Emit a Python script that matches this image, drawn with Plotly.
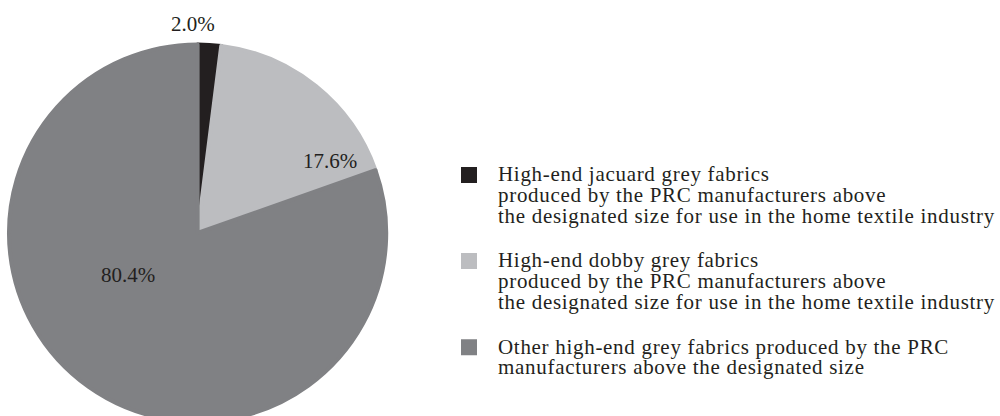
import plotly.graph_objects as go

labels = [
    "High-end jacuard grey fabrics<br>produced by the PRC manufacturers above<br>the designated size for use in the home textile industry",
    "High-end dobby grey fabrics<br>produced by the PRC manufacturers above<br>the designated size for use in the home textile industry",
    "Other high-end grey fabrics produced by the PRC<br>manufacturers above the designated size",
]
values = [2.0, 17.6, 80.4]
colors = ["#231f20", "#bcbdc0", "#808184"]

H = 440
SPAN = "<span style='font-size:21px;letter-spacing:0.7px'>"


def legend_text(t, last):
    lines = t.split("<br>")
    s = "<br>".join(SPAN + ln + "</span>" for ln in lines)
    return s if last else s + "<br> "


legend_labels = [legend_text(t, i == len(labels) - 1) for i, t in enumerate(labels)]

fig = go.Figure(go.Pie(
    labels=legend_labels,
    values=values,
    sort=False,
    direction="clockwise",
    rotation=0,
    marker=dict(colors=colors, line=dict(width=4, color=colors)),
    textinfo="none",
    hoverinfo="percent",
    domain=dict(x=[0.009, 0.387], y=[(H - 422) / H, (H - 44) / H]),
    showlegend=True,
))

# percentage labels
label_pos = [(193, 24), (331, 161), (128, 275)]
for v, (px, py) in zip(values, label_pos):
    fig.add_annotation(
        x=px / 1000, y=(H - py) / H, xref="paper", yref="paper",
        text=f"{v:.1f}%", showarrow=False, xanchor="center", yanchor="middle",
        font=dict(family="Liberation Serif", size=21, color="#231f20"),
    )

fig.update_layout(
    width=1000, height=H,
    margin=dict(l=0, r=0, t=0, b=0),
    paper_bgcolor="white",
    font=dict(family="Liberation Serif", size=17, color="#231f20"),
    legend=dict(x=0.441, y=(H - 158) / H, xanchor="left", yanchor="top",
                valign="top", itemwidth=48, tracegroupgap=0,
                font=dict(family="Liberation Serif", size=16, color="#231f20")),
)
fig.write_html("out.html", post_script="document.body.style.overflow='hidden';document.documentElement.style.overflow='hidden';")
